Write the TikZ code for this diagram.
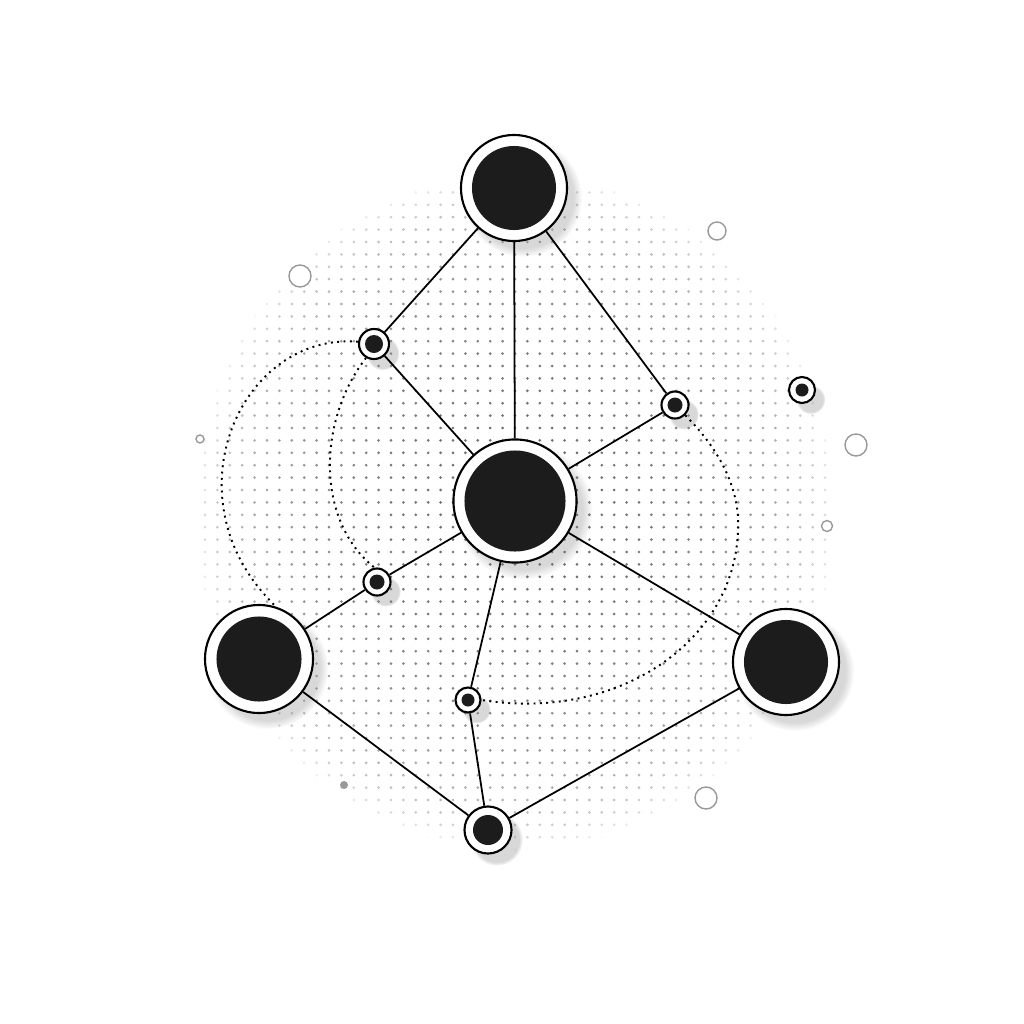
\documentclass[tikz,border=0pt]{standalone}
\usepackage{tikz}
\usetikzlibrary{shadows}

\definecolor{core}{HTML}{1C1C1C}

\tikzset{
  link/.style={line width=0.5pt},
  trail/.style={line width=0.55pt, dash pattern=on 0.55pt off 1.25pt},
  ring/.style 2 args={circle, draw, line width=0.6pt, fill=white, inner sep=0pt,
    minimum size=#1,
    circular drop shadow={shadow xshift=2.2pt, shadow yshift=-2.4pt, shadow scale=1.12, opacity=.3},
    path picture={\fill[core] (path picture bounding box.center) circle[radius=#2];}},
  speck/.style={draw=black!40, line width=0.4pt, fill=white},
}

\begin{document}
\begin{tikzpicture}[x=0.01cm, y=-0.01cm]
      \useasboundingbox (0,0) rectangle (1024,1024);
      \fill[white] (0,0) rectangle (1024,1024);
      % dot field
      \foreach \i in {0,...,50} {
        \foreach \j in {0,...,54} {
          \pgfmathsetmacro\gx{205+12.4*\i}
          \pgfmathsetmacro\gy{180+12.4*\j}
          \pgfmathsetmacro\gd{((\gx-515)/320)^2+((\gy-512)/338)^2}
          \ifdim\gd pt<1pt
            \pgfmathsetmacro\gk{58*sqrt(1-\gd)}
            \fill[black!\gk] (\gx,\gy) circle[radius=0.42pt];
          \fi
        }
      }
      % loose specks
      \draw[speck] (717,231) circle[radius=9];
      \draw[speck] (300,276) circle[radius=11];
      \draw[speck] (856,445) circle[radius=11];
      \draw[speck] (200,439) circle[radius=4];
      \draw[speck] (827,526) circle[radius=5.5];
      \draw[speck] (706,798) circle[radius=11];
      \fill[black!40] (344,785) circle[radius=4];
      \node[ring={0.26cm}{0.065cm}] (dot) at (802,390) {};
      % nodes
      \node[ring={1.06cm}{0.42cm}] (top) at (514,188) {};
      \node[ring={1.23cm}{0.505cm}] (hub) at (515,501) {};
      \node[ring={1.08cm}{0.425cm}] (lft) at (259,659) {};
      \node[ring={1.06cm}{0.42cm}] (rgt) at (786,662) {};
      \node[ring={0.47cm}{0.15cm}] (bot) at (488,830) {};
      \node[ring={0.30cm}{0.09cm}] (ul) at (374,344) {};
      \node[ring={0.27cm}{0.075cm}] (ur) at (675,405) {};
      \node[ring={0.27cm}{0.075cm}] (ml) at (377,582) {};
      \node[ring={0.25cm}{0.065cm}] (lo) at (468,700) {};
      % links
      \draw[link] (top) -- (ul);
      \draw[link] (top) -- (hub);
      \draw[link] (top) -- (ur);
      \draw[link] (ul) -- (hub);
      \draw[link] (ur) -- (hub);
      \draw[link] (hub) -- (ml);
      \draw[link] (ml) -- (lft);
      \draw[link] (hub) -- (rgt);
      \draw[link] (hub) -- (lo);
      \draw[link] (lo) -- (bot);
      \draw[link] (lft) -- (bot);
      \draw[link] (rgt) -- (bot);
      % dotted trails
      \draw[trail] (ul.172) .. controls (240,332) and (165,500) .. (lft.72);
      \draw[trail] (ul.240) .. controls (318,420) and (315,520) .. (ml.100);
      \draw[trail] (ur.315) .. controls (725,455) and (740,495) .. (738,530)
        .. controls (735,640) and (620,722) .. (lo.0);
    \end{tikzpicture}
\end{document}
